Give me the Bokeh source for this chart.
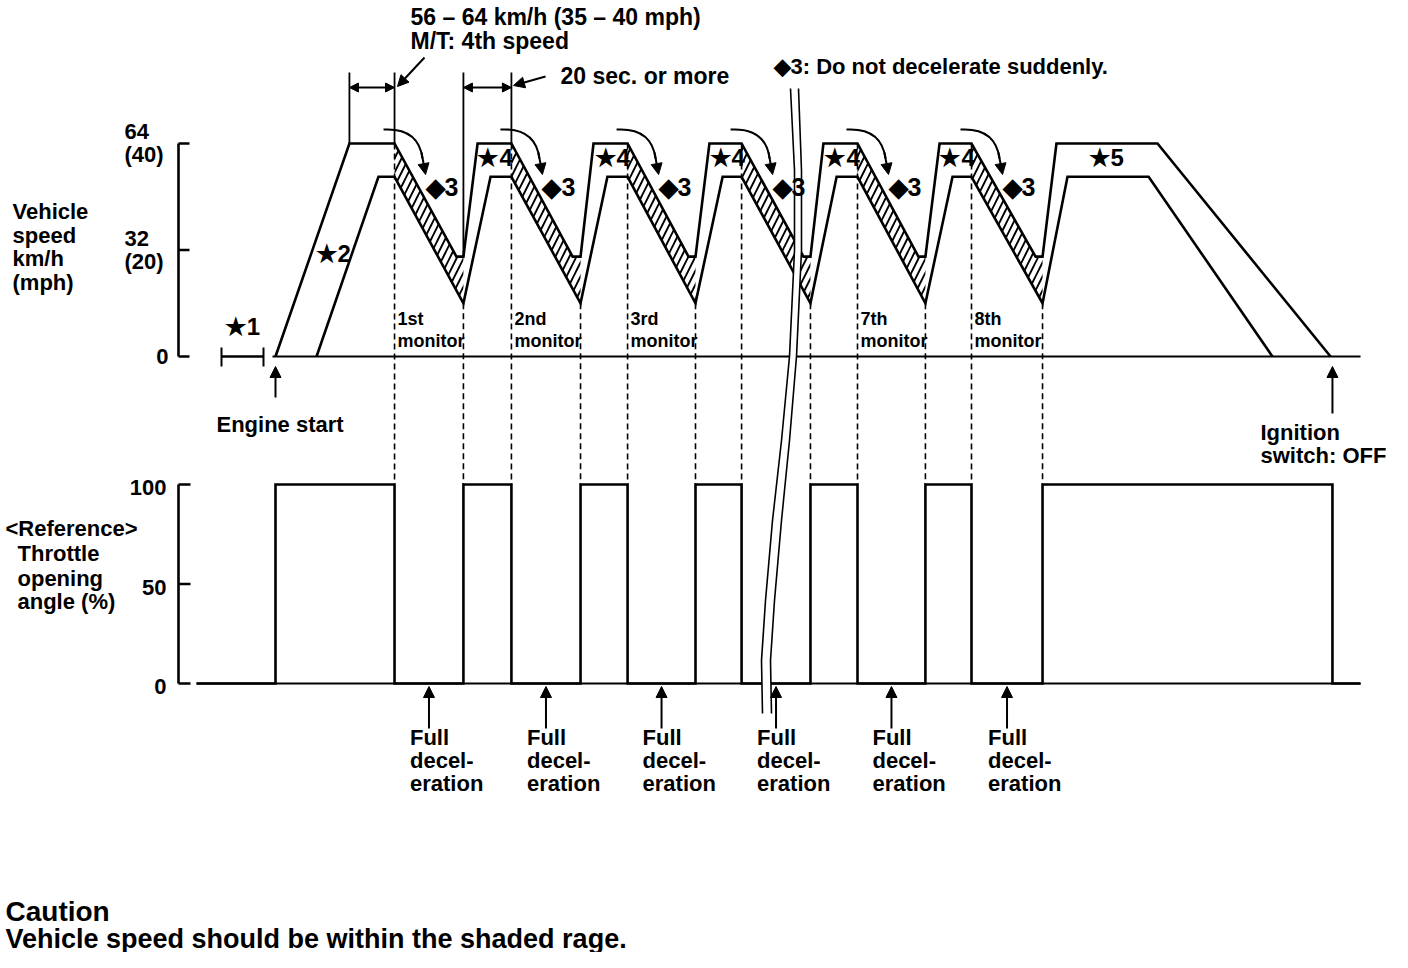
from bokeh.plotting import figure
from bokeh.models import Range1d, Arrow, NormalHead, ColumnDataSource
from bokeh.core.properties import value
from bokeh.embed import file_html
from bokeh.resources import INLINE

# ---------------- data ----------------
# schematic time axis: seconds after engine start
upper_t = [0.0, 30.8, 49.6, 75.4, 78.3, 84.2, 98.3, 123.8, 127.1, 132.5, 146.7,
           172.1, 175.0, 180.8, 194.2, 220.0, 222.9, 228.3, 242.5, 267.9, 270.8,
           276.7, 290.0, 316.7, 319.6, 325.4, 367.5, 439.6]
upper_kmh = [0, 64, 64, 30, 30, 64, 64, 30, 30, 64, 64, 30, 30, 64, 64, 30, 30, 64,
             64, 30, 30, 64, 64, 30, 30, 64, 64, 0]
lower_t = [17.1, 42.9, 49.6, 78.3, 89.6, 98.3, 127.1, 138.3, 146.7, 175.0, 186.3,
           194.2, 222.9, 233.8, 242.5, 270.8, 282.1, 290.0, 319.6, 330.0, 363.8, 415.4]
lower_kmh = [0, 54, 54, 16, 54, 54, 16, 54, 54, 16, 54, 54, 16, 54, 54, 16, 54, 54,
             16, 54, 54, 0]
decel_start = [49.6, 98.3, 146.7, 194.2, 242.5, 290.0]
decel_end = [78.3, 127.1, 175.0, 222.9, 270.8, 319.6]
upper_floor_t = [75.4, 123.8, 172.1, 220.0, 267.9, 316.7]
cruise_hi, cruise_lo, trough_hi, trough_lo = 64, 54, 30, 16
monitor_ordinals = ["1st", "2nd", "3rd", "", "7th", "8th"]
throttle_t = [-32.9, 0.0, 49.6, 78.3, 98.3, 127.1, 146.7, 175.0, 194.2, 222.9,
              242.5, 270.8, 290.0, 319.6, 440.4, 452.1]
throttle_pct = [0, 100, 0, 100, 0, 100, 0, 100, 0, 100, 0, 100, 0, 100, 0, 0]
speed_ticks = [0, 32, 64]
speed_tick_kmh = ["0", "32", "64"]
speed_tick_mph = ["", "(20)", "(40)"]
throttle_ticks = [0, 50, 100]
throttle_tick_labels = ["0", "50", "100"]
engine_start_t = 0.0
ignition_off_t = 440.4
star1_span = [-22.5, -5.0]
axis_end_t = 452.1

# ---------------- layout ----------------
W, H, OFF = 1392, 952, 0
T0, PXS = 275.0, 2.4          # px of t=0, px per second
SB, SK = 356.0, 213.0 / 64    # speed baseline px, px per km/h
TB, TK = 683.0, 1.99          # throttle baseline px, px per %
K = "black"
LW = 2.6
FONT = value("Liberation Sans")


def dt(px):
    return px / PXS


def spx(v):
    return SB - v * SK


def tpx(v):
    return TB - v * TK


p = figure(width=W, height=H, output_backend="svg", toolbar_location=None,
           x_range=Range1d((OFF - T0) / PXS, (OFF + W - T0) / PXS),
           y_range=Range1d(-(OFF + H - SB) / SK, (SB - OFF) / SK),
           min_border=0, x_axis_location=None, y_axis_location=None)
p.extra_x_ranges = {"px": Range1d(OFF, OFF + W)}
p.extra_y_ranges = {"thr": Range1d(-(OFF + H - TB) / TK, (TB - OFF) / TK),
                    "py": Range1d(OFF + H, OFF)}
p.grid.visible = False
p.outline_line_color = None
p.background_fill_color = "white"
p.border_fill_color = "white"


def label(xs, ys, texts, size=22, xr="px", yr="py", align="left", style="bold"):
    p.text(x=xs, y=ys, text=texts, x_range_name=xr, y_range_name=yr,
           text_font=FONT, text_font_size=value(f"{size}px"), text_font_style=style,
           text_align=align, text_baseline="middle", text_color=K)


# ---------- speed chart ----------
band_xs = [[d, f, e, e, d] for d, f, e in zip(decel_start, upper_floor_t, decel_end)]
band_ys = [[cruise_hi, trough_hi, trough_hi, trough_lo, cruise_lo] for _ in decel_start]
p.patches(band_xs, band_ys, fill_color="white", line_color=None, hatch_pattern="/",
          hatch_color=K, hatch_weight=1.9, hatch_scale=14)

# dashed guide lines
p.segment(x0=decel_start, x1=decel_start, y0=[spx(cruise_hi)] * 6, y1=[tpx(100)] * 6,
          y_range_name="py", line_color=K, line_width=1.6, line_dash="6 4")
p.segment(x0=decel_end, x1=decel_end, y0=[spx(trough_lo)] * 6, y1=[tpx(100)] * 6,
          y_range_name="py", line_color=K, line_width=1.6, line_dash="6 4")

p.line(upper_t, upper_kmh, line_color=K, line_width=LW, line_join="miter")
p.line(lower_t, lower_kmh, line_color=K, line_width=LW, line_join="miter")
p.line([engine_start_t - dt(3), axis_end_t], [0, 0], line_color=K, line_width=2.2)

# speed axis
p.line([178, 178], [0, 64], x_range_name="px", line_color=K, line_width=LW)
p.segment(x0=[178] * 3, x1=[189] * 3, y0=speed_ticks, y1=speed_ticks,
          x_range_name="px", line_color=K, line_width=LW)

# star-1 interval
p.segment(x0=[star1_span[0]], x1=[star1_span[1]], y0=[0], y1=[0],
          line_color=K, line_width=LW)
p.segment(x0=star1_span, x1=star1_span, y0=[spx(0) - 9] * 2, y1=[spx(0) + 10] * 2,
          y_range_name="py", line_color=K, line_width=2)

# brackets at top
first_cruise_t = upper_t[1]
bx = [first_cruise_t, decel_start[0], decel_end[0], decel_start[1]]
p.segment(x0=bx, x1=bx, y0=[spx(64), spx(64), spx(trough_hi), spx(64)], y1=[72] * 4,
          y_range_name="py", line_color=K, line_width=1.8)
for a, b in [(bx[0], bx[1]), (bx[2], bx[3])]:
    p.add_layout(Arrow(start=NormalHead(size=9, fill_color=K, line_color=K),
                       end=NormalHead(size=9, fill_color=K, line_color=K),
                       x_start=a, x_end=b, y_start=87, y_end=87, y_range_name="py",
                       line_color=K, line_width=2))
for xs_, ys_, xe_, ye_ in [(424, 57, 397, 86), (545, 76, 513, 85)]:
    p.add_layout(Arrow(end=NormalHead(size=11, fill_color=K, line_color=K),
                       x_start=xs_, y_start=ys_, x_end=xe_, y_end=ye_,
                       x_range_name="px", y_range_name="py", line_color=K, line_width=2))

# curved arrows over each deceleration
p.quadratic(x0=[d - dt(11) for d in decel_start], y0=[129] * 6,
            cx=[d + dt(24) for d in decel_start], cy=[127] * 6,
            x1=[d + dt(28) for d in decel_start], y1=[158] * 6,
            y_range_name="py", line_color=K, line_width=2)
head_src = ColumnDataSource(dict(xs=[d + dt(27) for d in decel_start], ys=[152] * 6,
                                 xe=[d + dt(31) for d in decel_start], ye=[174] * 6))
p.add_layout(Arrow(end=NormalHead(size=11, fill_color=K, line_color=K),
                   x_start="xs", y_start="ys", x_end="xe", y_end="ye", source=head_src,
                   y_range_name="py", line_color=K, line_width=2))

# engine start / ignition off
for t_, y0_ in [(engine_start_t, 397), (ignition_off_t, 413)]:
    p.add_layout(Arrow(end=NormalHead(size=11, fill_color=K, line_color=K),
                       x_start=t_, y_start=y0_, x_end=t_, y_end=366,
                       y_range_name="py", line_color=K, line_width=2))

# ---------- throttle chart ----------
p.line([throttle_t[0], axis_end_t], [0, 0], y_range_name="thr", line_color=K, line_width=2.2)
p.step(throttle_t, throttle_pct, mode="after", y_range_name="thr", line_color=K,
       line_width=LW, line_join="miter")
p.line([178, 178], [0, 100], x_range_name="px", y_range_name="thr", line_color=K, line_width=LW)
p.segment(x0=[178] * 3, x1=[190] * 3, y0=throttle_ticks, y1=throttle_ticks,
          x_range_name="px", y_range_name="thr", line_color=K, line_width=LW)

mids = [(d + e) / 2 for d, e in zip(decel_start, decel_end)]
fd_src = ColumnDataSource(dict(x=mids, ys=[728] * 6, ye=[686] * 6))
p.add_layout(Arrow(end=NormalHead(size=11, fill_color=K, line_color=K),
                   x_start="x", y_start="ys", x_end="x", y_end="ye", source=fd_src,
                   y_range_name="py", line_color=K, line_width=2))

# ---------- time-break symbol ----------
brk_y = [88, 170, 250, 356, 440, 520, 600, 660, 713]
brk_l = [790, 794, 794, 789, 781, 772, 765, 761, 762]
brk_r = [798, 801, 801, 796, 789, 781, 774, 770, 771]
p.patch(brk_l + brk_r[::-1], brk_y + brk_y[::-1], x_range_name="px", y_range_name="py",
        fill_color="white", line_color=None)
p.line(brk_l, brk_y, x_range_name="px", y_range_name="py", line_color=K, line_width=1.6)
p.line(brk_r, brk_y, x_range_name="px", y_range_name="py", line_color=K, line_width=1.6)

# ---------- texts ----------
label([124, 124], [spx(v) - 12 for v in speed_ticks[1:]], speed_tick_kmh[1:])
label([124, 124], [spx(v) + 11 for v in speed_ticks[1:]], speed_tick_mph[1:])
label([168], [spx(0)], speed_tick_kmh[:1], align="right")
label([12] * 4, [211, 235, 258, 282], ["Vehicle", "speed", "km/h", "(mph)"])
label([sum(star1_span) / 2], [326], ["★1"], size=24, xr="default", align="center")

label([410], [16], ["56 – 64 km/h (35 – 40 mph)"], size=23)
label([410], [40], ["M/T: 4th speed"], size=23)
label([560], [75], ["20 sec. or more"], size=23)
label([773], [66], ["◆3: Do not decelerate suddenly."], size=22)

label([d + dt(31) for d in decel_start], [186] * 6, ["◆3"] * 6, size=25, xr="default")
label([e + dt(14) for e in decel_end[:5]], [157] * 5, ["★4"] * 5, size=24, xr="default")
label([1088], [157], ["★5"], size=24)
label([315], [253], ["★2"], size=24)

mon = [(d, o) for d, o in zip(decel_start, monitor_ordinals) if o]
label([d + dt(3) for d, _ in mon], [318] * len(mon), [o for _, o in mon], size=18, xr="default")
label([d + dt(3) for d, _ in mon], [340] * len(mon), ["monitor"] * len(mon), size=18, xr="default")

label([216], [424], ["Engine start"])
label([1260, 1260], [432, 455], ["Ignition", "switch: OFF"])

label([166] * 3, [tpx(v) + 3 for v in throttle_ticks], throttle_tick_labels, align="right")
label([5, 17, 17, 17], [528, 553, 578, 601], ["<Reference>", "Throttle", "opening", "angle (%)"])

for txt, yy in [("Full", 737), ("decel-", 760), ("eration", 783)]:
    label([m - dt(19) for m in mids], [yy] * 6, [txt] * 6, xr="default")

# ---------- caution ----------
label([5], [911], ["Caution"], size=28)
label([5], [938], ["Vehicle speed should be within the shaded rage."], size=27)

open("out.html", "w").write(file_html(p, INLINE))
